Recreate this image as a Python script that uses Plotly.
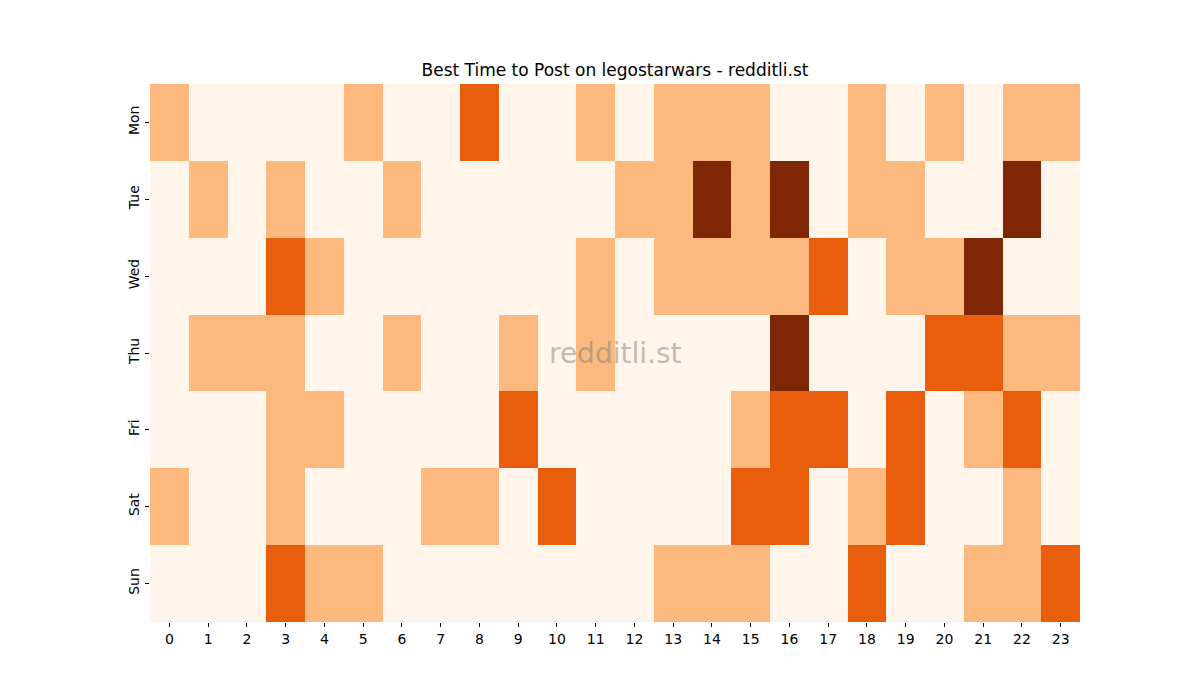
import plotly.graph_objects as go

days = ["Mon", "Tue", "Wed", "Thu", "Fri", "Sat", "Sun"]
hours = list(range(24))

# activity level per day (0 = low .. 3 = best)
mon = [1, 0, 0, 0, 0, 1, 0, 0, 2, 0, 0, 1, 0, 1, 1, 1, 0, 0, 1, 0, 1, 0, 1, 1]
tue = [0, 1, 0, 1, 0, 0, 1, 0, 0, 0, 0, 0, 1, 1, 3, 1, 3, 0, 1, 1, 0, 0, 3, 0]
wed = [0, 0, 0, 2, 1, 0, 0, 0, 0, 0, 0, 1, 0, 1, 1, 1, 1, 2, 0, 1, 1, 3, 0, 0]
thu = [0, 1, 1, 1, 0, 0, 1, 0, 0, 1, 0, 1, 0, 0, 0, 0, 3, 0, 0, 0, 2, 2, 1, 1]
fri = [0, 0, 0, 1, 1, 0, 0, 0, 0, 2, 0, 0, 0, 0, 0, 1, 2, 2, 0, 2, 0, 1, 2, 0]
sat = [1, 0, 0, 1, 0, 0, 0, 1, 1, 0, 2, 0, 0, 0, 0, 2, 2, 0, 1, 2, 0, 0, 1, 0]
sun = [0, 0, 0, 2, 1, 1, 0, 0, 0, 0, 0, 0, 0, 1, 1, 1, 0, 0, 2, 0, 0, 1, 1, 2]

z = [mon, tue, wed, thu, fri, sat, sun]

level_colors = ["#fff5eb", "#fdb97d", "#e95e0d", "#7f2704"]
colorscale = []
for i, c in enumerate(level_colors):
    colorscale.append([i / 4, c])
    colorscale.append([(i + 1) / 4, c])

fig = go.Figure()
fig.add_trace(go.Heatmap(
    z=z,
    x=hours,
    y=days,
    zmin=-0.5,
    zmax=3.5,
    colorscale=colorscale,
    showscale=False,
    xgap=0,
    ygap=0,
))

# page adds ~8px offset, so margins are shifted to compensate
fig.update_layout(
    width=1200,
    height=700,
    margin=dict(l=142, r=128, t=76, b=86),
    paper_bgcolor="white",
    plot_bgcolor="white",
    font=dict(family="DejaVu Sans", size=14, color="#000000"),
    title=dict(
        text="Best Time to Post on legostarwars - redditli.st",
        x=0.5,
        xref="paper",
        y=1 - 62 / 700,
        yref="container",
        yanchor="middle",
        font=dict(size=17, color="#000000"),
    ),
    xaxis=dict(
        tickmode="array",
        tickvals=hours,
        ticktext=[str(h) for h in hours],
        ticks="outside",
        ticklen=4,
        tickcolor="#000000",
        showgrid=False,
        zeroline=False,
        showline=False,
        range=[-0.5, 23.5],
    ),
    yaxis=dict(
        autorange="reversed",
        tickangle=-90,
        ticks="outside",
        ticklen=4,
        tickcolor="#000000",
        showgrid=False,
        zeroline=False,
        showline=False,
    ),
    annotations=[dict(
        text="redditli.st",
        x=0.5,
        y=0.5,
        xref="paper",
        yref="paper",
        showarrow=False,
        font=dict(size=28, color="rgba(128,128,128,0.5)"),
    )],
)

fig.write_html("out.html")
